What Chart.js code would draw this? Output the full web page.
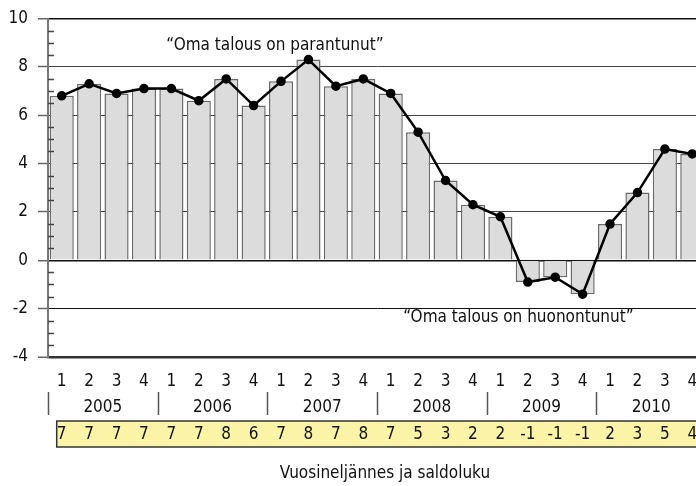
<!DOCTYPE html>
<html>
<head>
<meta charset="utf-8">
<script src="https://cdn.jsdelivr.net/npm/chart.js@4/dist/chart.umd.min.js"></script>
<style>
html,body{margin:0;padding:0;overflow:hidden;background:#fff;width:696px;height:486px;}
#wrap{width:716px;height:486px;}
</style>
</head>
<body>
<div id="wrap"><canvas id="c" width="716" height="486"></canvas></div>
<script>
const years = ['2005','2006','2007','2008','2009','2010'];
const quarters = ['1','2','3','4'];
const values = [6.8,7.3,6.9,7.1, 7.1,6.6,7.5,6.4, 7.4,8.3,7.2,7.5, 6.9,5.3,3.3,2.3, 1.8,-0.9,-0.7,-1.4, 1.5,2.8,4.6,4.4];
const saldo = ['7','7','7','7','7','7','8','6','7','8','7','8','7','5','3','2','2','-1','-1','-1','2','3','5','4'];
const yTicks = [-4,-2,0,2,4,6,8,10];
const noteUp = '\u201COma talous on parantunut\u201D';
const noteDown = '\u201COma talous on huonontunut\u201D';
const axisTitle = 'Vuosineljännes ja saldoluku';

const labels = [];
years.forEach(y => quarters.forEach(q => labels.push(y + ' Q' + q)));

const FONT = "'DejaVu Sans Condensed','DejaVu Sans',sans-serif";
const FS = 17;
const W = 716, PLOT_RIGHT = 706;

const overlay = {
  id: 'overlay',
  afterDraw(chart) {
    const {ctx, scales: {x, y}, chartArea: a} = chart;
    ctx.save();
    // minor ticks inside plot
    ctx.strokeStyle = '#444';
    ctx.lineWidth = 1.5;
    for (let v = -4; v <= 10; v += 0.5) {
      if (Math.abs(v % 2) < 1e-9) continue;
      const py = Math.round(y.getPixelForValue(v)) + 0.5;
      ctx.beginPath(); ctx.moveTo(a.left, py); ctx.lineTo(a.left + 6, py); ctx.stroke();
    }
    ctx.font = FS + 'px ' + FONT;
    ctx.fillStyle = '#111';
    ctx.textAlign = 'center';
    ctx.textBaseline = 'middle';
    // quarter labels
    labels.forEach((l, i) => {
      ctx.fillText(quarters[i % 4], x.getPixelForValue(i), a.bottom + 25);
    });
    // year labels and separators
    const step = x.getPixelForValue(1) - x.getPixelForValue(0);
    years.forEach((yr, k) => {
      const cx = (x.getPixelForValue(k * 4 + 1) + x.getPixelForValue(k * 4 + 2)) / 2;
      ctx.fillText(yr, cx, a.bottom + 51);
    });
    ctx.strokeStyle = '#555';
    ctx.lineWidth = 1.5;
    for (let k = 0; k <= years.length; k++) {
      const sx = Math.round(x.getPixelForValue(k * 4) - step / 2) + 0.5;
      ctx.beginPath(); ctx.moveTo(sx, a.bottom + 35); ctx.lineTo(sx, a.bottom + 58); ctx.stroke();
    }
    // yellow saldo box
    const bx = x.getPixelForValue(0) - 5;
    const by = a.bottom + 64, bh = 26;
    ctx.fillStyle = '#fbf4a6';
    ctx.fillRect(bx, by, W - bx + 5, bh);
    ctx.strokeStyle = '#333';
    ctx.lineWidth = 1.5;
    ctx.strokeRect(bx, by, W - bx + 5, bh);
    ctx.fillStyle = '#111';
    saldo.forEach((s, i) => {
      ctx.fillText(s, x.getPixelForValue(i), by + bh / 2 + 1);
    });
    // axis title
    ctx.fillText(axisTitle, (a.left + a.right) / 2 + 8, 474);
    // annotations
    ctx.fillText(noteUp, x.getPixelForValue(7.78), y.getPixelForValue(8.87));
    ctx.fillText(noteDown, x.getPixelForValue(16.66), y.getPixelForValue(-2.39));
    ctx.restore();
  }
};

new Chart(document.getElementById('c'), {
  data: {
    labels: labels,
    datasets: [
      {
        type: 'line',
        data: values,
        order: 0,
        borderColor: '#000',
        borderWidth: 2.5,
        pointRadius: 3.5,
        pointBackgroundColor: '#000',
        pointBorderColor: '#000',
        tension: 0
      },
      {
        type: 'bar',
        data: values,
        order: 1,
        backgroundColor: '#dcdcdc',
        borderColor: '#6a6a6a',
        borderWidth: 1.5,
        categoryPercentage: 1,
        barPercentage: 0.88
      }
    ]
  },
  options: {
    responsive: false,
    animation: false,
    events: [],
    layout: {padding: {top: 17.5, right: W - PLOT_RIGHT, bottom: 0, left: 0}},
    plugins: {legend: {display: false}, tooltip: {enabled: false}},
    scales: {
      x: {
        type: 'category',
        offset: true,
        ticks: {display: false},
        grid: {display: false},
        border: {display: false},
        afterFit(s) { s.height = 129; }
      },
      y: {
        min: -4,
        max: 10,
        afterBuildTicks(s) { s.ticks = yTicks.map(v => ({value: v})); },
        ticks: {
          color: '#111',
          font: {family: FONT, size: FS, lineHeight: 1},
          padding: 10,
          callback: v => String(v)
        },
        grid: {
          color: c => {
            const v = c.tick && c.tick.value;
            return (v === 0 || v === 10 || v === -2) ? '#111' : (v === -4 ? '#333' : '#444');
          },
          lineWidth: c => {
            const v = c.tick && c.tick.value;
            return v === -4 ? 2.5 : (v === 0 || v === 10 ? 1.5 : 1);
          },
          tickColor: '#666',
          tickLength: 10,
          tickWidth: 1.5
        },
        border: {color: '#777', width: 2},
        afterFit(s) { s.width = 48; }
      }
    }
  },
  plugins: [overlay]
});
</script>
</body>
</html>
